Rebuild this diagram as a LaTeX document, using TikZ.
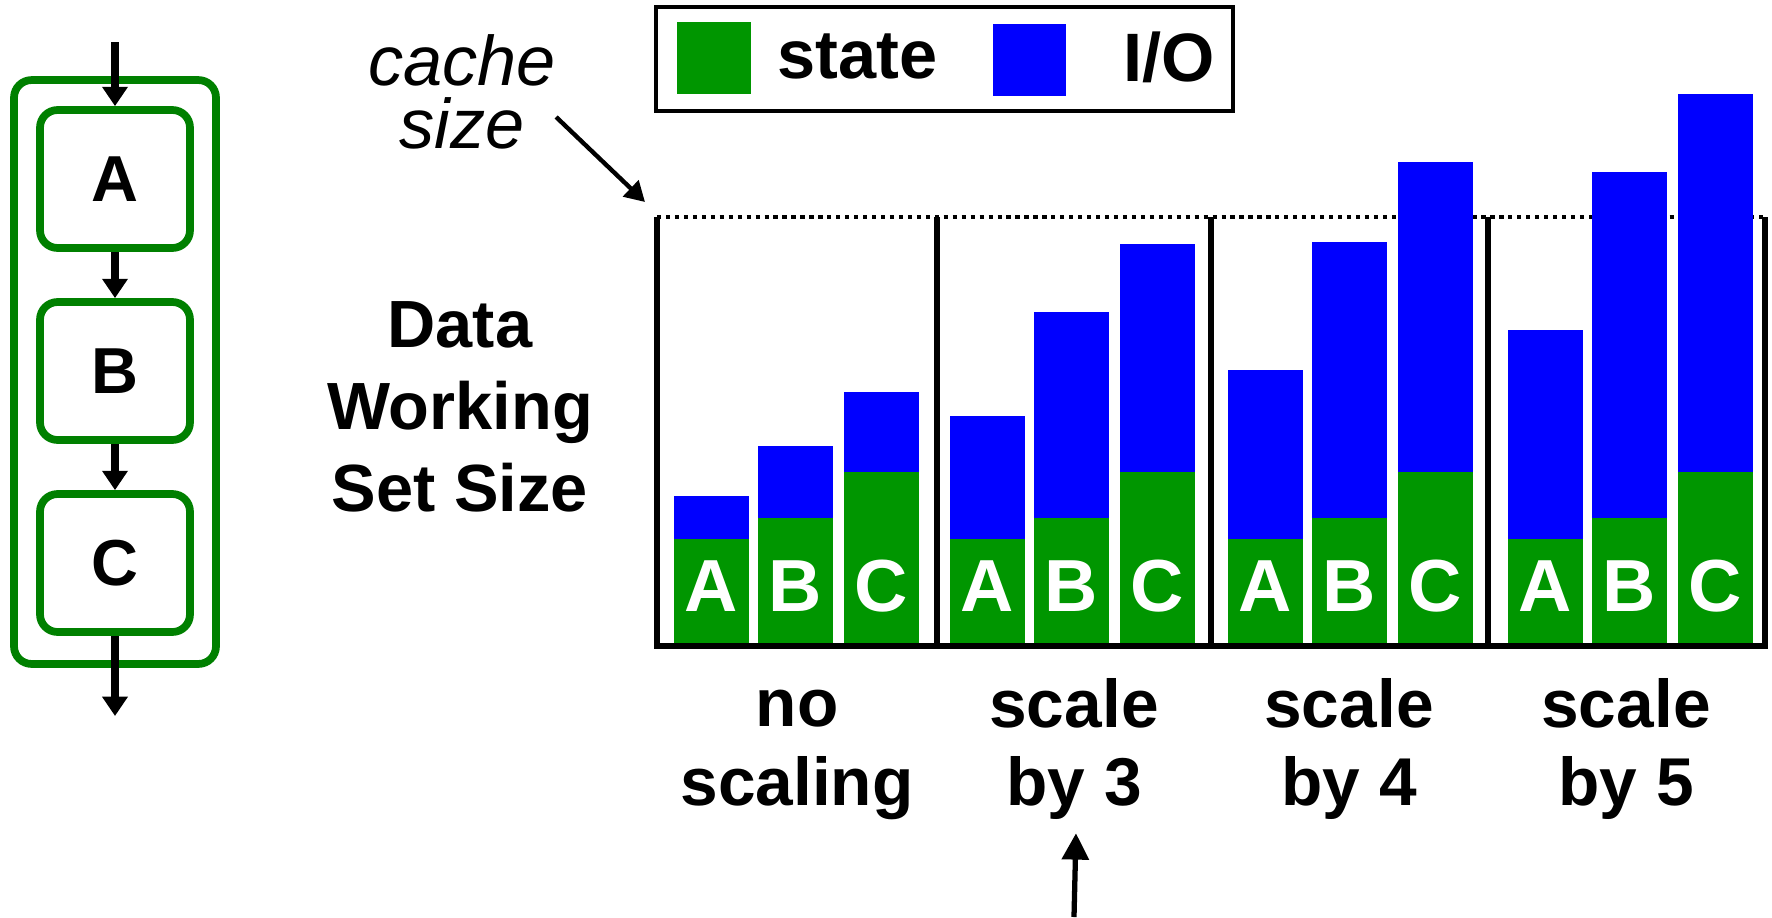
\documentclass[tikz,border=0pt]{standalone}
\usepackage{fontspec}
\setmainfont{Liberation Sans}
\usepackage{tikz}
\usetikzlibrary{arrows.meta,positioning}

\definecolor{boxgreen}{RGB}{0,128,0}
\definecolor{stategreen}{RGB}{0,150,0}
\definecolor{ioblue}{RGB}{0,0,255}

\begin{document}
\begin{tikzpicture}[x=0.02cm,y=-0.02cm,
                    >={Triangle[width=14pt,length=11pt]},
                    font=\bfseries]
  \tikzstyle{stage}=[draw=boxgreen,line width=4.4pt,rounded corners=10pt,
                     minimum width=3cm,minimum height=2.76cm,inner sep=0pt,
                     font=\bfseries\fontsize{37}{40}\selectfont]
  \tikzstyle{flow}=[->,line width=4.2pt]
  \tikzstyle{axisline}=[line width=2.9pt]
  \tikzstyle{grouptext}=[align=center,inner sep=0pt,
                         font=\bfseries\fontsize{38.5}{44.8}\selectfont]
  \tikzstyle{keytext}=[inner sep=0pt,font=\bfseries\fontsize{39}{44}\selectfont]

  \useasboundingbox (0,0) rectangle (1772,917);

  % pipeline on the left
  \node[stage] (A) at (115,179) {A};
  \node[stage] (B) at (115,371) {B};
  \node[stage] (C) at (115,563) {C};
  \node[draw=boxgreen,line width=4.4pt,rounded corners=10pt,
        minimum width=4.04cm,minimum height=11.68cm] (chain) at (115,372) {};
  \coordinate (in) at (115,42);
  \coordinate (out) at (115,716);
  \draw[flow] (in) -- (A);
  \draw[flow] (A) -- (B);
  \draw[flow] (B) -- (C);
  \draw[flow] (C) -- (out);

  % legend
  \node[draw,line width=2.5pt,minimum width=11.54cm,minimum height=2.08cm,
        inner sep=0pt] (legend) at (944.5,59) {};
  \node[fill=stategreen,minimum width=1.48cm,minimum height=1.44cm,
        inner sep=0pt] (statekey) at (714,58) {};
  \node[keytext,anchor=base west] (statetext) at (777,78) {state};
  \node[fill=ioblue,minimum width=1.46cm,minimum height=1.44cm,
        inner sep=0pt] (iokey) at (1029.5,60) {};
  \node[keytext,anchor=base east] (iotext) at (1215,81) {I/O};

  % cache size
  \node[align=center,inner sep=0pt,
        font=\itshape\fontsize{40}{36}\selectfont] (cache) at (462,92) {cache\\size};
  \coordinate (limit) at (645,202);
  \draw[->,line width=2.5pt,>={Triangle[width=12.5pt,length=11.3pt]}]
    ([yshift=-0.5cm]cache.east) -- (limit);
  \draw[line width=2.8pt,dash pattern=on 2.4pt off 2.7pt] (657,217) -- (1765,217);

  % bars
  \foreach \px/\ta/\tb/\tc [count=\k] in {674/496/446/392, 950/416/312/244,
                                          1228/370/242/162, 1508/330/172/94}{
    \foreach \dx/\gtop/\btop/\nm in {0/539/\ta/A, 84/518/\tb/B, 170/472/\tc/C}{
      \fill[ioblue] (\px+\dx,\btop) rectangle (\px+\dx+75,\gtop);
      \fill[stategreen] (\px+\dx,\gtop) rectangle (\px+\dx+75,644);
      \node[text=white,inner sep=0pt,font=\bfseries\fontsize{42}{44}\selectfont]
        (lt\k\nm) at (\px+\dx+37.5,586) {\nm};
    }
  }

  % frame
  \draw[axisline] (657,217) -- (657,646) -- (1765,646) -- (1765,217);
  \foreach \sx in {937,1211,1488}
    \draw[axisline] (\sx,217) -- (\sx,646);

  \node[align=center,inner sep=0pt,
        font=\bfseries\fontsize{38}{46.5}\selectfont] (wss) at (460,407)
        {Data\\Working\\Set Size};

  % group labels
  \node[grouptext] (s1) at (797,755) {no\\scaling};
  \node[grouptext] (s3) at (1074,749) {scale\\by 3};
  \node[grouptext] (s4) at (1349,749) {scale\\by 4};
  \node[grouptext] (s5) at (1626,749) {scale\\by 5};

  \coordinate (pointer) at (1074,917);
  \draw[->,line width=3pt,>={Triangle[width=15pt,length=15pt]}]
    (pointer) -- ([xshift=0.04cm,yshift=-0.26cm]s3.south);
\end{tikzpicture}
\end{document}
